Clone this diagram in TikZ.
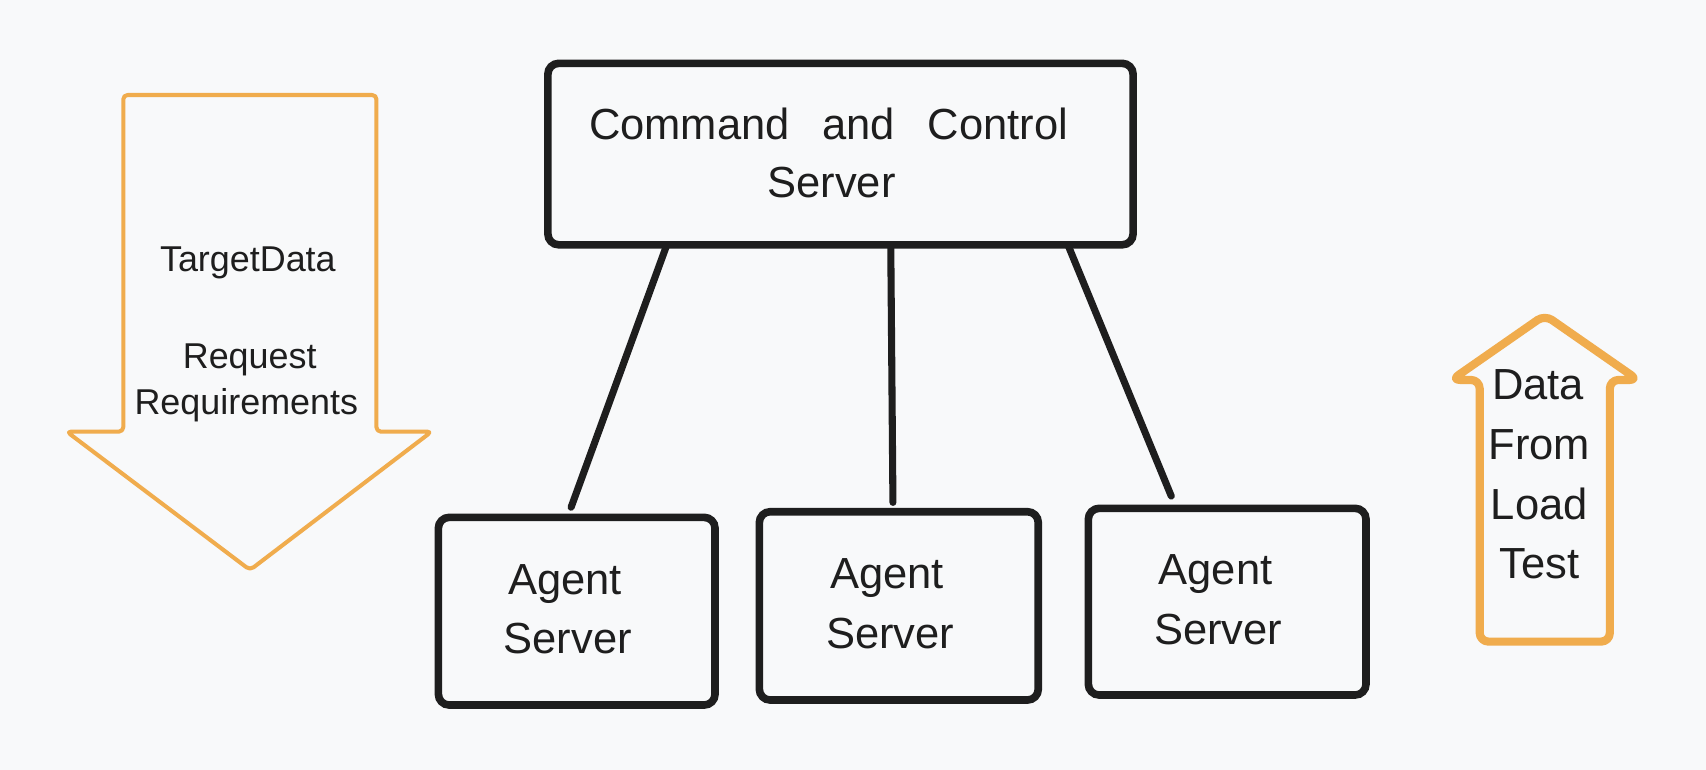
\documentclass[tikz,border=0pt]{standalone}
\usepackage{fontspec}
\setmainfont{Liberation Sans}
\definecolor{bg}{RGB}{248,249,250}
\definecolor{ink}{RGB}{30,30,30}
\definecolor{orng}{RGB}{240,172,77}
\begin{document}
\begin{tikzpicture}[x=1pt,y=-1pt,
  box/.style={draw=ink, line width=7pt, rounded corners=10pt, inner sep=0pt, outer sep=0pt},
  conn/.style={draw=ink, line width=6.5pt, line cap=round},
  lbl/.style={text=ink, inner sep=0pt, anchor=base, font=\fontsize{40}{48}\selectfont},
  slbl/.style={lbl, font=\fontsize{33}{40}\selectfont},
  harrow/.style={draw=orng, line join=round, rounded corners=4pt}]
\fill[bg] (0,0) rectangle (1568,707.7);
\useasboundingbox (0,0) rectangle (1568,707.7);

% orange arrows
\draw[harrow, line width=3.7pt] (113.3,87.3) -- (346,87.3) -- (346,396.7) -- (396.7,396.7) -- (229.8,523.9) -- (61.3,396.7) -- (113.3,396.7) -- cycle;
\draw[harrow, line width=7.5pt, rounded corners=8pt] (1360,589.7) -- (1360,349.2) -- (1334,349.2) -- (1419.8,289.5) -- (1505.6,349.2) -- (1479.6,349.2) -- (1479.6,589.7) -- cycle;

% boxes
\node[box, minimum width=537.9pt, minimum height=166.8pt] (cc) at (772.5,141.6) {};
\node[box, minimum width=254.3pt, minimum height=172.5pt] (a1) at (530.05,561.75) {};
\node[box, minimum width=256.4pt, minimum height=173.1pt] (a2) at (826.1,556.85) {};
\node[box, minimum width=255.2pt, minimum height=171.6pt] (a3) at (1127.9,553) {};

% connectors
\draw[conn] ([xshift=-159.6pt]cc.south) -- ([xshift=-5.15pt,yshift=9.3pt]a1.north);
\draw[conn] ([xshift=46.2pt]cc.south) -- ([xshift=-5.4pt,yshift=8.55pt]a2.north);
\draw[conn] ([xshift=209pt]cc.south) -- ([xshift=-51.4pt,yshift=11.3pt]a3.north);

% texts
\node[lbl] (cct1) at (761.5,128) {Command\hspace{30pt}and\hspace{30pt}Control};
\node[lbl] (cct2) at (764.2,181.7) {Server};
\node[lbl] (a1t1) at (519.3,546.3) {Agent};
\node[lbl] (a1t2) at (521.9,600.5) {Server};
\node[lbl] (a2t1) at (815.3,540.7) {Agent};
\node[lbl] (a2t2) at (818.3,595.9) {Server};
\node[lbl] (a3t1) at (1117.2,537) {Agent};
\node[lbl] (a3t2) at (1119.8,591.9) {Server};

\node[slbl] (lt1) at (227.8,249.7) {TargetData};
\node[slbl] (lt2) at (229.5,338.5) {Request};
\node[slbl] (lt3) at (226.4,381.4) {Requirements};

\node[lbl] (rt1) at (1413.7,367) {Data};
\node[lbl] (rt2) at (1414.9,422.2) {From};
\node[lbl] (rt3) at (1414.7,477.3) {Load};
\node[lbl] (rt4) at (1414.7,531.5) {Test};
\end{tikzpicture}
\end{document}
